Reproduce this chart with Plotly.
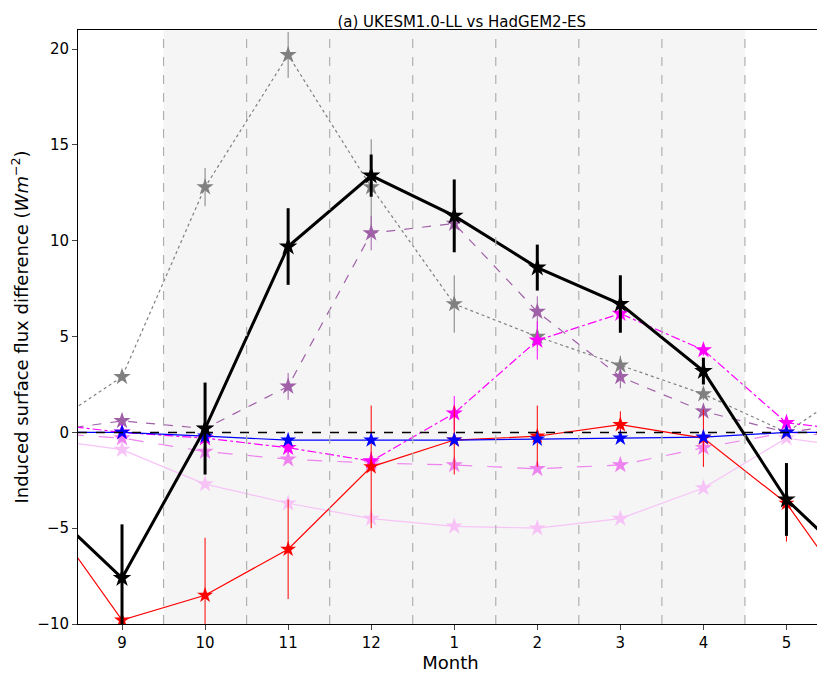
import plotly.graph_objects as go

months = ["9", "10", "11", "12", "1", "2", "3", "4", "5"]

black = [-7.6, 0.2, 9.7, 13.4, 11.3, 8.6, 6.7, 3.2, -3.5]
black_err = [2.8, 2.4, 2.0, 1.1, 1.9, 1.2, 1.5, 0.7, 1.9]
grey = [2.9, 12.8, 19.7, 12.8, 6.7, 5.0, 3.5, 2.0, 0.0]
grey_err = [0.2, 1.0, 1.2, 2.5, 1.5, 0.5, 0.5, 0.3, 0.2]
purple = [0.6, 0.2, 2.4, 10.4, 10.9, 6.3, 2.9, 1.1, 0.0]
purple_err = [0.2, 0.3, 0.7, 0.9, 1.3, 0.8, 0.6, 0.3, 0.2]
magenta = [0.0, -0.3, -0.8, -1.5, 1.0, 4.8, 6.2, 4.3, 0.5]
magenta_err = [0.2, 0.3, 0.3, 0.5, 0.9, 1.0, 0.7, 0.3, 0.2]
violet = [-0.3, -1.0, -1.4, -1.6, -1.7, -1.9, -1.7, -0.8, 0.0]
pink = [-0.9, -2.7, -3.7, -4.5, -4.9, -5.0, -4.5, -2.9, -0.3]
blue = [0.0, -0.2, -0.4, -0.4, -0.4, -0.35, -0.3, -0.25, 0.0]
red = [-9.8, -8.5, -6.1, -1.8, -0.4, -0.2, 0.4, -0.3, -3.7]
red_err = [0.3, 3.0, 2.6, 3.2, 1.8, 1.6, 0.7, 1.5, 2.0]

x = list(range(-1, 10))

def wrap(v):
    return [v[-1]] + v + [v[0]]

fig = go.Figure()
fig.add_vrect(x0=0.5, x1=7.5, fillcolor="#f5f5f5", line_width=0, layer="below")
for b in [i + 0.5 for i in range(8)]:
    fig.add_vline(x=b, line=dict(color="#b0b0b0", width=1.2, dash="dash"))
fig.add_hline(y=0, line=dict(color="black", width=1.5, dash="dash"))

def add(v, color, width, dash, size, err=None, errw=1):
    e = None
    if err is not None:
        e = dict(type="data", array=wrap(err), color=color, thickness=errw, width=0)
    fig.add_trace(go.Scatter(
        x=x, y=wrap(v), mode="lines+markers", error_y=e,
        line=dict(color=color, width=width, dash=dash),
        marker=dict(symbol="star", size=size, color=color, line=dict(width=0)),
        showlegend=False))

add(pink, "#f7c3f7", 1.2, "solid", 13)
add(violet, "#ee82ee", 1.2, "longdash", 13)
add(grey, "grey", 1.2, "dot", 13, grey_err, 1)
add(purple, "#a060a8", 1.2, "dash", 13, purple_err, 1)
add(magenta, "magenta", 1.2, "dashdot", 13, magenta_err, 1)
add(red, "red", 1.2, "solid", 12, red_err, 1)
add(blue, "blue", 1.2, "solid", 12)
add(black, "black", 3, "solid", 14, black_err, 3)

fig.update_layout(
    width=825, height=673, plot_bgcolor="white", paper_bgcolor="white",
    margin=dict(l=68, r=9, t=22, b=57),
    font=dict(family="DejaVu Sans", size=15, color="black"),
    title=dict(text="(a) UKESM1.0-LL vs HadGEM2-ES", x=0.55, y=0.988, font=dict(size=15)),
)
fig.update_xaxes(range=[-0.53, 8.44], tickvals=list(range(9)), ticktext=months,
                 showgrid=False, zeroline=False, showline=True, linecolor="black", mirror=True,
                 ticks="outside", title=dict(text="Month", standoff=2))
fig.update_yaxes(range=[-10, 21], tickvals=[-10, -5, 0, 5, 10, 15, 20], showgrid=False,
                 zeroline=False, showline=True, linecolor="black", mirror=True, ticks="outside",
                 title=dict(text="Induced surface flux difference (<i>Wm</i><sup>−2</sup>)", standoff=8))
fig.write_html("out.html")
